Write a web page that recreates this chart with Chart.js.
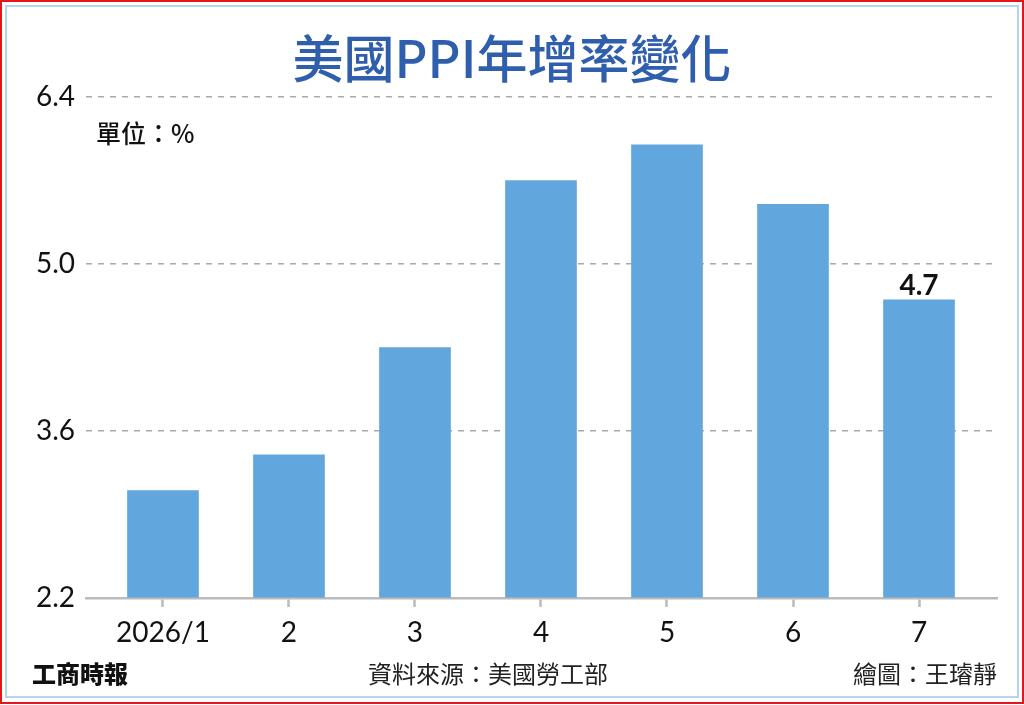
<!DOCTYPE html>
<html><head><meta charset="utf-8">
<script src="https://cdn.jsdelivr.net/npm/chart.js@4/dist/chart.umd.min.js"></script>
<style>
html,body{margin:0;padding:0;background:#fff;}
#wrap{position:relative;width:1024px;height:705px;overflow:hidden;background:#fff;}
#outer{position:absolute;left:0;top:0;width:1024px;height:704px;box-sizing:border-box;border:2px solid #e8141c;}
#inner{position:absolute;left:5px;top:5px;width:1014px;height:693px;box-sizing:border-box;border:2px solid #b5d3ea;}
#c{position:absolute;left:0;top:0;width:1024px;height:705px;}
.t{position:absolute;white-space:nowrap;font-family:"Noto Sans CJK TC","Noto Sans",sans-serif;color:#111;}
</style></head><body>
<div id="wrap">
<div id="outer"></div><div id="inner"></div>
<canvas id="c" width="1024" height="705"></canvas>
<div class="t" style="left:0;width:1024px;text-align:center;top:29px;font-size:51px;line-height:54px;font-weight:500;color:#2f5fac;">美國PPI年增率變化</div>
<div class="t" style="left:96px;top:117px;font-size:25px;line-height:30px;font-weight:500;">單位：%</div>
<div class="t" style="left:32px;top:658px;font-size:24px;line-height:30px;font-weight:900;">工商時報</div>
<div class="t" style="left:368px;top:658px;font-size:24px;line-height:30px;color:#222;">資料來源：美國勞工部</div>
<div class="t" style="right:27px;top:658px;font-size:24px;line-height:30px;color:#222;">繪圖：王璿靜</div>
</div>
<script>
const categories = ['2026/1', '2', '3', '4', '5', '6', '7'];
const ppiValues = [3.1, 3.4, 4.3, 5.7, 6.0, 5.5, 4.7];
const yTickValues = [2.2, 3.6, 5.0, 6.4];
const labelledIndex = 6;

const valueLabel = {
  id: 'valueLabel',
  afterDatasetsDraw(chart) {
    const bar = chart.getDatasetMeta(0).data[labelledIndex];
    if (!bar) return;
    const ctx = chart.ctx;
    ctx.save();
    ctx.font = 'bold 28px Lato, "Noto Sans", sans-serif';
    ctx.fillStyle = '#111';
    ctx.textAlign = 'center';
    ctx.textBaseline = 'alphabetic';
    ctx.fillText(ppiValues[labelledIndex].toFixed(1), bar.x, bar.y - 5);
    ctx.restore();
  }
};

new Chart(document.getElementById('c'), {
  type: 'bar',
  data: {
    datasets: [{
      data: ppiValues.map((v, i) => ({ x: i, y: v })),
      backgroundColor: '#62a6de',
      borderWidth: 0,
      barThickness: 71,
      base: yTickValues[0]
    }]
  },
  options: {
    responsive: false,
    devicePixelRatio: 1,
    animation: false,
    layout: { padding: { top: 97, right: 27, left: 0, bottom: 0 } },
    plugins: { legend: { display: false }, tooltip: { enabled: false }, title: { display: false } },
    scales: {
      x: {
        type: 'linear',
        offset: false,
        min: -0.611,
        max: 6.619,
        afterBuildTicks: s => { s.ticks = categories.map((c, i) => ({ value: i })); },
        afterFit: s => { s.height = 107; },
        ticks: {
          callback: v => categories[v],
          font: { family: 'Lato, "Noto Sans", sans-serif', size: 28 },
          color: '#111',
          padding: 9,
          maxRotation: 0,
          autoSkip: false
        },
        grid: { offset: false, drawOnChartArea: false, drawTicks: true, tickLength: 9, tickColor: '#bbb', tickWidth: 2.5 },
        border: { display: true, color: '#bbb', width: 2.5 }
      },
      y: {
        min: yTickValues[0],
        max: yTickValues[yTickValues.length - 1],
        afterBuildTicks: s => { s.ticks = yTickValues.map(v => ({ value: v })); },
        afterFit: s => { s.width = 86; },
        ticks: {
          callback: v => v.toFixed(1),
          font: { family: 'Lato, "Noto Sans", sans-serif', size: 28 },
          color: '#111',
          padding: 11
        },
        grid: {
          color: c => (c.tick && c.tick.value === yTickValues[0]) ? 'rgba(0,0,0,0)' : '#aaa',
          lineWidth: 1.5,
          drawTicks: false
        },
        border: { display: false, dash: [6, 6] }
      }
    }
  },
  plugins: [valueLabel]
});
</script>
</body></html>
